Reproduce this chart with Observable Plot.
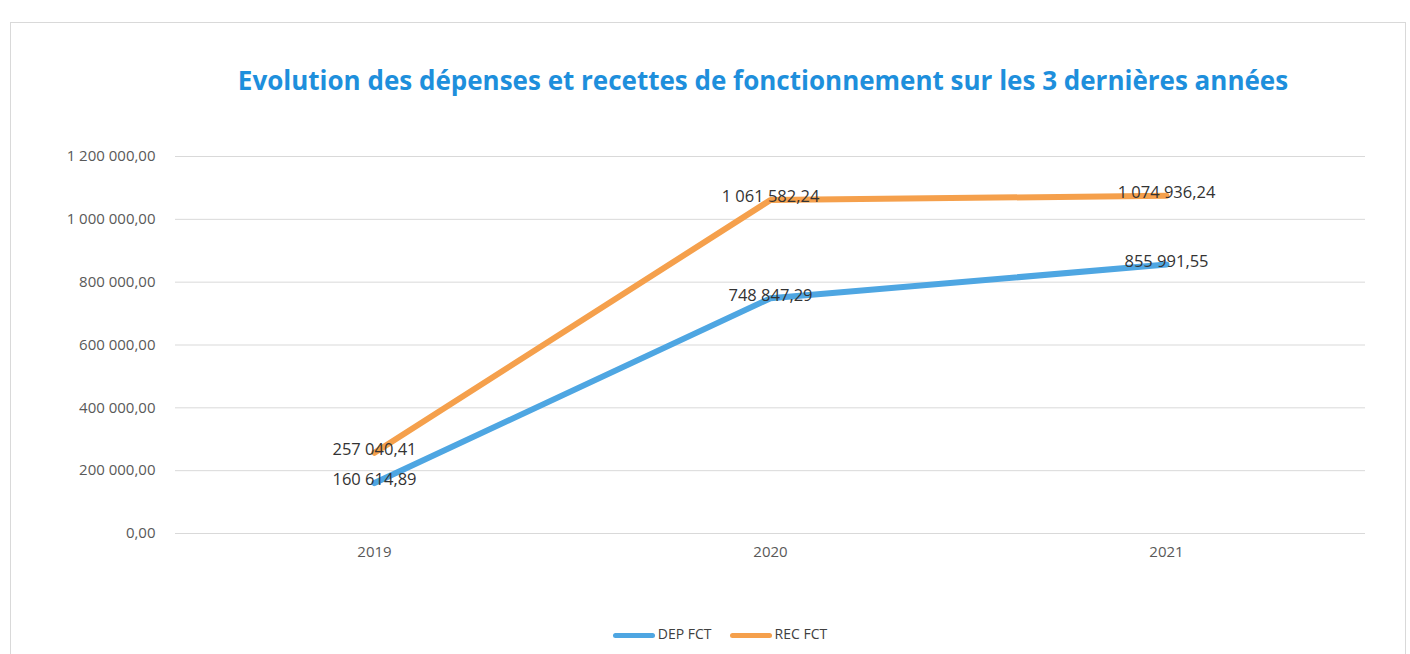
<!DOCTYPE html>
<html><head><meta charset="utf-8">
<script src="https://cdn.jsdelivr.net/npm/d3@7"></script>
<script src="https://cdn.jsdelivr.net/npm/@observablehq/plot@0.6"></script>
<style>
body{margin:0;background:#fff;width:1410px;height:654px;overflow:hidden;position:relative;font-family:"Open Sans",sans-serif;}
#frame{position:absolute;left:10px;top:22px;width:1396px;height:700px;border:1px solid #d9d9d9;box-sizing:border-box;}
#title{position:absolute;left:0;top:61px;width:1526px;text-align:center;font-size:26px;font-weight:bold;color:#1e8fdc;line-height:38px;}
#chart{position:absolute;left:0;top:130px;}
#legend{position:absolute;top:624px;left:0;width:1440px;text-align:center;font-size:14px;color:#404040;}
.sw{display:inline-block;width:42px;height:5px;border-radius:3px;vertical-align:middle;margin-right:3px;}
.it{display:inline-block;margin:0 9px;}
</style></head>
<body>
<div id="frame"></div>
<div id="title">Evolution des dépenses et recettes de fonctionnement sur les 3 dernières années</div>
<div id="chart"></div>
<div id="legend"><span class="it"><span class="sw" style="background:#4ea6e2"></span>DEP FCT</span><span class="it"><span class="sw" style="background:#f5a04c"></span>REC FCT</span></div>
<script>
const years = ["2019", "2020", "2021"];
const depFct = [160614.89, 748847.29, 855991.55];
const recFct = [257040.41, 1061582.24, 1074936.24];
const yTicks = [0, 200000, 400000, 600000, 800000, 1000000, 1200000];
const seriesNames = ["DEP FCT", "REC FCT"];
const seriesColors = ["#4ea6e2", "#f5a04c"];

const fmt = v => d3.format(",.2f")(v).replace(/,/g, " ").replace(".", ",");
const data = [];
years.forEach((y, i) => {
  data.push({year: y, value: depFct[i], series: seriesNames[0]});
  data.push({year: y, value: recFct[i], series: seriesNames[1]});
});

const chart = Plot.plot({
  width: 1410,
  height: 450,
  marginLeft: 175,
  marginRight: 45,
  marginTop: 26,
  marginBottom: 47,
  style: {fontFamily: "Open Sans, sans-serif", fontSize: "15px", color: "#595959", background: "transparent"},
  x: {type: "point", domain: years, padding: 0.5, label: null, tickSize: 0, tickPadding: 13},
  y: {domain: [0, 1200000], ticks: yTicks, tickFormat: fmt, label: null, tickSize: 0, tickPadding: 20},
  color: {domain: seriesNames, range: seriesColors},
  marks: [
    Plot.ruleY(yTicks, {stroke: "#d9d9d9", strokeWidth: 1}),
    Plot.line(data, {x: "year", y: "value", z: "series", stroke: "series", strokeWidth: 6, strokeLinejoin: "round", strokeLinecap: "round"}),
    Plot.text(data, {x: "year", y: "value", text: d => fmt(d.value), fill: "#333", fontSize: 16.5, dy: -3})
  ]
});
document.getElementById("chart").appendChild(chart);
</script>
</body></html>
